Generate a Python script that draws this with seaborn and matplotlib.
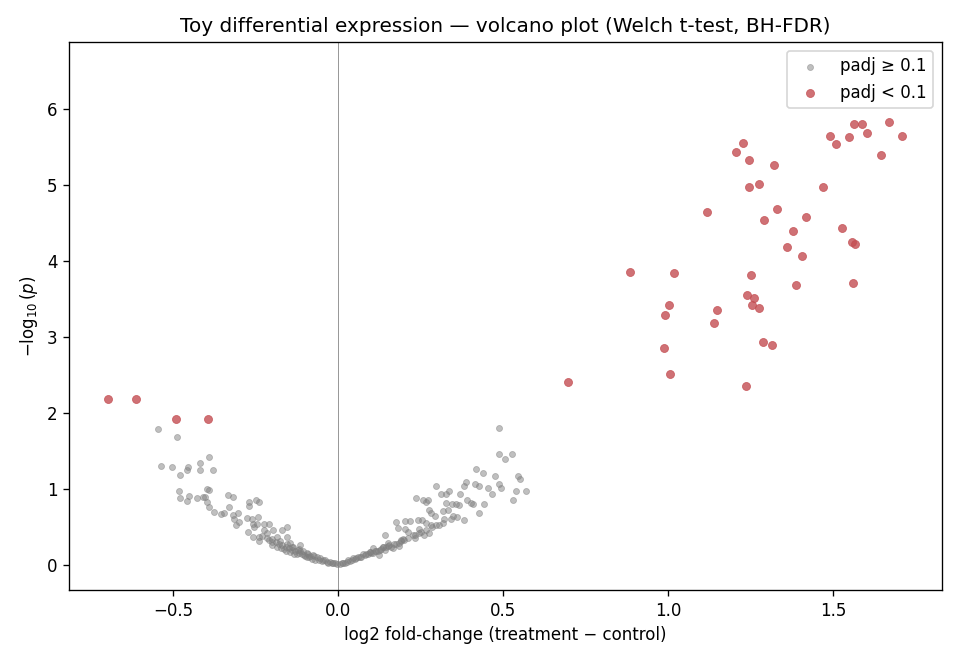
import matplotlib
matplotlib.use("Agg")
import matplotlib.pyplot as plt
import seaborn as sns
import pandas as pd

# ---- data ----
# significant genes (padj < 0.1)
sig_lfc = [1.670, 1.586, 1.563, 1.603, 1.709, 1.491, 1.549, 1.509, 1.645, 1.227,
           1.206, 1.245, 1.321, 1.245, 1.276, 1.470, 1.117, 1.330, 1.291, 1.418,
           1.379, 1.527, 1.361, 1.558, 1.567, 1.406, 0.885, 1.018, 1.252, 1.388,
           1.561, 1.239, 1.261, 1.003, 1.255, 1.276, 1.148, 0.991, 1.139, 1.288,
           1.315, 0.988, 1.006, 1.236, 0.697, -0.697, -0.612, -0.492, -0.394]
sig_nlp = [5.83, 5.81, 5.80, 5.69, 5.64, 5.64, 5.63, 5.54, 5.40, 5.55,
           5.44, 5.33, 5.26, 4.98, 5.01, 4.98, 4.64, 4.69, 4.54, 4.58,
           4.39, 4.44, 4.19, 4.25, 4.22, 4.07, 3.85, 3.84, 3.81, 3.69,
           3.71, 3.55, 3.52, 3.42, 3.42, 3.38, 3.36, 3.29, 3.18, 2.93,
           2.89, 2.86, 2.52, 2.36, 2.41, 2.19, 2.18, 1.92, 1.92]

# non-significant genes (padj >= 0.1)
ns_lfc = [
    # negative side
    -0.548, -0.488, -0.393, -0.536, -0.503, -0.455, -0.458, -0.418, -0.418, -0.379,
    -0.479, -0.483, -0.479, -0.452, -0.458, -0.427, -0.411, -0.405, -0.398, -0.392,
    -0.399, -0.391, -0.376, -0.355, -0.347, -0.333, -0.319, -0.330, -0.319, -0.303,
    -0.316, -0.310, -0.300, -0.271, -0.271, -0.249, -0.241, -0.276, -0.261, -0.242,
    -0.258, -0.255, -0.247, -0.225, -0.209, -0.226, -0.273, -0.258, -0.239, -0.240,
    -0.215, -0.197, -0.170, -0.155, -0.217, -0.202, -0.187, -0.177, -0.156, -0.170,
    -0.146, -0.136, -0.116, -0.121, -0.106, -0.091, -0.076, -0.065, -0.055, -0.040,
    -0.025, -0.010,
    -0.190, -0.180, -0.160, -0.150, -0.140, -0.130, -0.120, -0.110, -0.100, -0.090,
    -0.080, -0.070, -0.060, -0.050, -0.045, -0.035, -0.030, -0.020, -0.015, -0.005,
    -0.230, -0.210, -0.200, -0.185, -0.165, -0.145, -0.125, -0.105, -0.095, -0.085,
    -0.175, -0.155, -0.135, -0.115, -0.095, -0.075, -0.140, -0.120, -0.160, -0.200,
    # positive side
    0.488, 0.488, 0.506, 0.525, 0.417, 0.439, 0.475, 0.545, 0.552, 0.388,
    0.382, 0.415, 0.427, 0.453, 0.465, 0.488, 0.494, 0.539, 0.570, 0.530,
    0.442, 0.427, 0.382, 0.297, 0.312, 0.327, 0.336, 0.370, 0.391, 0.403,
    0.409, 0.327, 0.345, 0.358, 0.367, 0.236, 0.258, 0.273, 0.267, 0.276,
    0.281, 0.294, 0.318, 0.333, 0.348, 0.321, 0.318, 0.297, 0.282, 0.267,
    0.255, 0.242, 0.218, 0.203, 0.176, 0.182, 0.212, 0.233, 0.245, 0.261,
    0.276, 0.245, 0.233, 0.203, 0.191, 0.185, 0.142, 0.152, 0.161, 0.136,
    0.121, 0.106, 0.097, 0.122, 0.076, 0.061, 0.045, 0.030, 0.015,
    0.005, 0.010, 0.020, 0.025, 0.035, 0.040, 0.050, 0.055, 0.065, 0.070,
    0.080, 0.085, 0.090, 0.100, 0.110, 0.115, 0.130, 0.145, 0.150, 0.170,
    0.190, 0.195, 0.210, 0.225, 0.250, 0.265, 0.285, 0.305, 0.340, 0.360,
    0.095, 0.125, 0.135, 0.155, 0.165, 0.175, 0.185, 0.105, 0.140, 0.200,
]
ns_nlp = [
    # negative side
    1.79, 1.68, 1.42, 1.30, 1.29, 1.29, 1.25, 1.34, 1.25, 1.25,
    1.18, 0.97, 0.88, 0.91, 0.84, 0.88, 0.89, 0.89, 1.00, 0.99,
    0.83, 0.76, 0.70, 0.67, 0.68, 0.92, 0.90, 0.76, 0.66, 0.68,
    0.61, 0.52, 0.57, 0.83, 0.78, 0.86, 0.83, 0.62, 0.60, 0.63,
    0.54, 0.50, 0.54, 0.54, 0.54, 0.46, 0.43, 0.37, 0.32, 0.37,
    0.42, 0.46, 0.46, 0.50, 0.35, 0.34, 0.37, 0.31, 0.37, 0.26,
    0.29, 0.24, 0.26, 0.20, 0.18, 0.15, 0.13, 0.11, 0.09, 0.07,
    0.04, 0.02,
    0.30, 0.27, 0.24, 0.22, 0.20, 0.18, 0.16, 0.14, 0.12, 0.10,
    0.08, 0.07, 0.06, 0.05, 0.06, 0.04, 0.03, 0.02, 0.02, 0.01,
    0.38, 0.33, 0.30, 0.23, 0.21, 0.17, 0.15, 0.13, 0.11, 0.12,
    0.22, 0.27, 0.15, 0.19, 0.16, 0.12, 0.23, 0.21, 0.19, 0.26,
    # positive side
    1.80, 1.46, 1.40, 1.46, 1.26, 1.21, 1.17, 1.17, 1.13, 1.09,
    1.04, 1.07, 1.04, 1.01, 0.94, 1.07, 1.01, 0.98, 0.97, 0.86,
    0.80, 0.68, 0.59, 1.04, 0.94, 0.94, 0.97, 0.94, 0.86, 0.81,
    0.80, 0.81, 0.80, 0.80, 0.79, 0.88, 0.86, 0.86, 0.83, 0.73,
    0.68, 0.65, 0.71, 0.72, 0.64, 0.60, 0.55, 0.52, 0.52, 0.55,
    0.59, 0.59, 0.58, 0.58, 0.56, 0.48, 0.43, 0.40, 0.42, 0.40,
    0.42, 0.47, 0.35, 0.47, 0.33, 0.29, 0.39, 0.29, 0.23, 0.23,
    0.19, 0.22, 0.17, 0.13, 0.15, 0.11, 0.09, 0.07, 0.03,
    0.01, 0.02, 0.03, 0.04, 0.05, 0.06, 0.08, 0.09, 0.10, 0.11,
    0.13, 0.14, 0.15, 0.16, 0.18, 0.19, 0.21, 0.24, 0.25, 0.28,
    0.31, 0.34, 0.36, 0.39, 0.44, 0.46, 0.50, 0.53, 0.60, 0.63,
    0.17, 0.20, 0.24, 0.26, 0.22, 0.28, 0.25, 0.16, 0.20, 0.33,
]

group_labels = ["padj \u2265 0.1", "padj < 0.1"]

df = pd.concat([
    pd.DataFrame({"lfc": ns_lfc, "nlp": ns_nlp, "grp": group_labels[0]}),
    pd.DataFrame({"lfc": sig_lfc, "nlp": sig_nlp, "grp": group_labels[1]}),
], ignore_index=True)

fig, ax = plt.subplots(figsize=(8, 5.5), dpi=120)

ax.axvline(0, color="grey", linewidth=0.6, alpha=0.8, zorder=0)

sns.scatterplot(data=df[df.grp == group_labels[0]], x="lfc", y="nlp",
                color="#808080", alpha=0.5, s=13, linewidth=0.5,
                edgecolor="#808080", label=group_labels[0], ax=ax)
sns.scatterplot(data=df[df.grp == group_labels[1]], x="lfc", y="nlp",
                color="#c44e52", alpha=0.8, s=23, linewidth=0.5,
                edgecolor="#c44e52", label=group_labels[1], ax=ax)

ax.set_xlim(-0.816, 1.829)
ax.set_ylim(-0.33, 6.88)
ax.set_xticks([-0.5, 0.0, 0.5, 1.0, 1.5])
ax.set_yticks([0, 1, 2, 3, 4, 5, 6])
ax.set_xlabel("log2 fold-change (treatment \u2212 control)")
ax.set_ylabel(r"$-\log_{10}(p)$")
ax.set_title("Toy differential expression \u2014 volcano plot (Welch t-test, BH-FDR)")
ax.legend(loc="upper right")

fig.subplots_adjust(left=0.072, right=0.981, top=0.936, bottom=0.106)
fig.savefig("out.png", dpi=120)
